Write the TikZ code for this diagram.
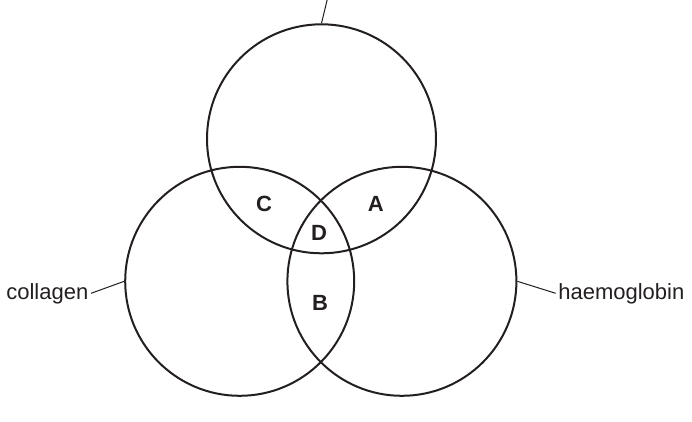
\documentclass[tikz,border=0pt]{standalone}
\usepackage{fontspec}
\setmainfont{Liberation Sans}
\definecolor{ink}{HTML}{231F20}
\begin{document}
\begin{tikzpicture}[x=0.75pt,y=-0.75pt,
  ring/.style={circle,draw=ink,line width=1.5pt,minimum size=171.75pt,inner sep=0pt},
  lead/.style={draw=ink,line width=0.75pt},
  word/.style={text=ink,font=\fontsize{16.5pt}{18pt}\selectfont,inner sep=0pt,outer sep=2pt},
  region/.style={text=ink,font=\fontsize{16.5pt}{18pt}\selectfont\bfseries,inner sep=0pt}]
\useasboundingbox (0,0) rectangle (692,421);
\node[ring] (T) at (321.5,138.8) {};
\node[ring] (L) at (239.7,281.3) {};
\node[ring] (R) at (401.9,281.3) {};
\node[region] (C) at (264,204) {C};
\node[region] (A) at (375.7,204) {A};
\node[region] (D) at (319,233.3) {D};
\node[region] (B) at (320,302.7) {B};
\node[word,anchor=base east] (col) at (91,299) {collagen};
\node[word,anchor=base west] (hae) at (555.7,299) {haemoglobin};
\coordinate (top) at (327.6,-2);
\draw[lead] (col.east) -- (L.west);
\draw[lead] (R.east) -- (hae.west);
\draw[lead] (T.north) -- (top);
\end{tikzpicture}
\end{document}
